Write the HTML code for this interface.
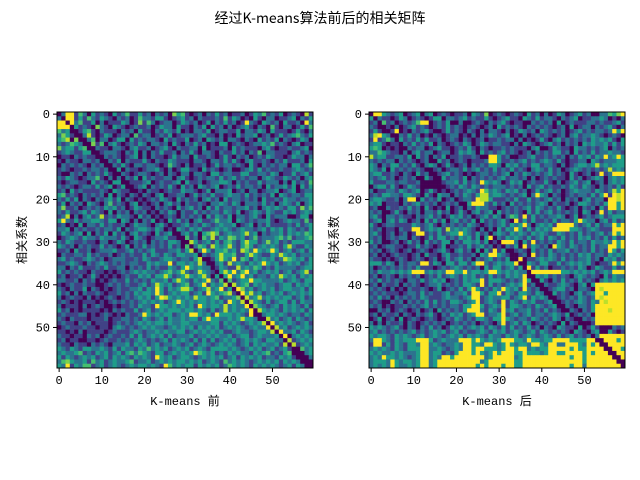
<!DOCTYPE html>
<html><head><meta charset="utf-8">
<style>
html,body{margin:0;padding:0;background:#fff;}
svg{display:block;}
text{font-family:"Liberation Mono","Noto Sans CJK SC",monospace;fill:#000;}
</style></head>
<body>
<svg id="fig" width="640" height="480" viewBox="0 0 640 480" xmlns="http://www.w3.org/2000/svg">
<text x="320" y="23" text-anchor="middle" font-size="14" style='font-family:"Noto Sans CJK SC","Liberation Mono",sans-serif'>经过K-means算法前后的相关矩阵</text>
</svg>
<script>
const tickValues=[0,10,20,30,40,50];
const levelScale=[0,0.2,0.38,0.55,0.7,0.8,0.9,1,1,1];
const leftRows=[
"0298142031 2103124113 1202120534 1012021312 0112013241 2130121061",
"2089131421 3210212014 2213310123 1202111214 1320103102 2011230213",
"9907241130 2011132015 1420122013 2120130213 1201721032 1203112082",
"9970312105 2103210121 1201322031 1021303120 2012310210 4102201314",
"4230413410 2111021203 1102132130 1022130122 1130221320 3111013102",
"2531052610 1320122041 2201213012 2212311020 1031223012 0131234213",
"3460503240 2201330312 1221031211 3012032120 2210210312 1302101320",
"2124320351 4023101213 2022120310 2131201033 0121012232 4121023011",
"5233134062 1102210231 1201231021 1220301112 0312111023 1011211230",
"1232113304 1222102130 2021311202 1310221021 1312021402 2111023121",
"0110212110 2212101230 2021101312 2031121013 1021201213 2110132202",
"1021102212 0121302111 3102113211 1022102213 1310231121 0213111203",
"0212121021 2012131022 1221014210 2011201312 2121031021 2122033124",
"1210112122 1201302110 1223102013 3110312101 2001231312 1121123212",
"1002120212 1310121012 2101202102 2022103312 2113311221 3201131231",
"2132101224 1020212130 3121122023 1012122131 2312122023 2113212023",
"1012211031 2103302111 2301211230 3112012233 2021211312 2202031214",
"2121012213 1230130112 3021213103 1203212301 2131221203 1223130313",
"1203121111 2103211021 0211012113 2210130222 3012022012 2301230122",
"3412102121 2030210211 2102301122 0131213112 3221312121 3032122133",
"2131302102 1231302101 0121321031 2120231203 1221212031 1213221223",
"1302120321 0241210230 1012023120 2112102232 1320222131 2023213023",
"2511201212 1323120132 1102121031 2312031312 2122312023 2321331524",
"2131123132 1030212021 2010213202 1131212213 2130123213 2113231232",
"1260202312 6121322103 1201012102 1212031321 3022123103 1222001330",
"3721312233 2133032020 2130103131 2023112422 3032121223 1012322141",
"1201030221 3121120132 2102310112 3121321232 2301230213 1111213123",
"2230212112 1221302123 3213201032 1323112323 2123221231 3231321213",
"1321230302 1303120231 2103123032 3130346412 3223623021 2231323243",
"0123213221 3222131032 1012231103 4120426132 5423124122 2342412234",
"2132112110 2201320121 2021213320 0631231313 4213633125 2312133322",
"3212021211 3121013021 3121213120 4024316323 6213531232 3213621132",
"1120311201 2223112312 1231112231 3602731334 2316427323 7312312313",
"0211221312 1120121211 3132132133 2230212363 3411363211 3263231222",
"2312112321 2012221121 3211233212 2136301363 2714313232 3126432313",
"1123210212 3212121221 1323227133 2326210231 6232132373 2312323123",
"2202131112 1311220212 1312113213 7323220132 1162324312 1322221233",
"3121211021 1010121232 3221234236 2126321036 3724723123 2312312361",
"1201120131 0101012113 2313363123 6323620313 9237231221 3263231323",
"2211202120 1012113121 2132231363 2132372140 4123373322 2231232133",
"1012112110 0121212112 3126323123 4123913236 0623413232 2123313232",
"2102113021 0101211223 1327313236 6312362371 3075231232 3123322313",
"3120202112 1011212132 3327312323 3123173234 6107362312 3231232323",
"2012110201 0121012123 2313763232 3263323412 2350623623 2323312312",
"1210101110 1012121212 3232312373 2323323231 7326063213 1233131322",
"2011102012 1001011213 2217332323 2317323326 2322705321 2313232131",
"3120101111 0102121131 2312323332 3323213126 2323270632 3213232313",
"1211122010 1210102112 7323233123 2773231733 3232170523 3232122132",
"2102111011 1201122121 3212313223 2331373322 3236332076 2312313212",
"1211021201 1101212123 2323323223 3222223313 2321232360 7232321231",
"0121112110 1102321212 3232212323 2313232312 3232123227 0623123232",
"1101020111 1012111232 1223232233 1232323231 1232212332 6072231321",
"2110110212 0121121313 1232313122 2312232322 3123312322 2307023232",
"1201100110 1211212123 2121231323 2131313123 2312323213 3220612323",
"2110211021 2102223132 3123122321 2312321232 3212313232 2316061232",
"3213213322 3213132213 2423231232 3123213333 2321232312 3123160423",
"2322341213 2312313424 3213312323 2374323121 3232213234 1213406023",
"3132123231 2313232132 3217323123 3212323231 2313232312 2132310702",
"2453223142 3123223412 2312323233 2323123214 2323212323 2313232060",
"3291324412 3123212323 3232174232 3313232312 4323213232 3212313206"];
const rightRows=[
"0773212301 2302301210 1120321501 2101210312 0201320123 1200224357",
"3021101320 1210133022 1231211310 1231103213 1221021230 1122320102",
"1204120121 2477012130 0200121021 2310110021 2120301211 1221211231",
"2103102012 3121012131 2101210120 3121210212 1210120301 2202123102",
"1310217010 2123100131 2102102022 1020132120 3212120123 1212212737",
"2673260213 1201021012 2010202132 1230102012 1210120231 2232101210",
"1712420312 1313112012 1021012011 2122020101 3102312121 2132323103",
"2331011021 3121302101 2132013212 2110203210 1231202120 3232231313",
"3430101032 1220123110 1213102101 1212111023 0013211032 2121230212",
"2243211021 2312201220 1323203121 2312101202 1213312031 2131223221",
"6233112213 0312021301 1211210077 3120011231 1212120213 2313272373",
"2121220212 1012003120 1210111277 3112123121 2321310112 2032122233",
"3202133121 3102320131 0120212133 2032312133 1221020123 3236232333",
"3213031212 1213012012 2131231213 1213121023 2131201232 1212126232",
"2331121021 0312101231 2101012212 1230213212 1231210310 1201712777",
"2123120121 2003120312 2130212121 2312212020 1212110312 0123202323",
"3111221221 1200003122 3131217323 2013230121 1310201231 2301202323",
"0233131013 2100000312 1321321212 2212120312 3121121321 3210212131",
"2011221321 2301310121 2123217423 2132312013 1231201232 2213212637",
"1213322133 2103103221 2132136623 3212123027 3202101212 2131371767",
"2332112027 7031213012 0122176631 1121311312 1231202120 2312207767",
"3230111021 2312120121 2103777213 1203121212 3202112013 3212137737",
"1200211213 1203101030 1212132211 0121212313 2121310120 2120317737",
"2120013102 1202213120 1313231230 3121210313 1231212120 3201713122",
"2310221211 0212312013 2312312313 2024317131 2122320130 1212312333",
"1230231320 1203131302 3121313121 2310713131 1213122137 3220231312",
"3101221111 3212310212 1213213121 2313237202 3231777721 2313122737",
"2120110211 7712323162 3232102120 3132731313 2327777332 1232111777",
"2310120120 1771213123 3732131202 3213232132 3211321213 1212312737",
"2120121220 2101313312 1323130373 2132321312 3132131213 2312131312",
"3120012013 1203121330 2133231301 3777203171 2121321312 2132232737",
"1201221101 1312101301 1213123120 1121307132 1207321321 2131227737",
"2120121012 0121012310 2312030317 1320121031 2131223121 2131217313",
"1201012110 1203110231 1211203277 3210012071 2132121213 2312213232",
"2110101210 1210120131 2312021231 2130070112 3232131212 2312032312",
"3331320212 2177132033 1331377212 3233770321 3311312323 2310112737",
"2012121212 1311101212 3212120313 3123130713 1201121213 2013211312",
"2132232323 7772323277 3372332377 3232322077 7777733232 3231232777",
"1201210212 1201213123 2132312131 2132327013 2312121023 2121031322",
"2131212102 2131232301 2132337133 3212127301 3102131213 1210232323",
"1202112021 2101223121 2133217131 2123237120 3211232102 3037777777",
"2121020102 1121013012 1313731213 2732317212 0212331202 2107677777",
"1212111012 2131211231 2231773133 7132133213 2023121023 1237737777",
"2131202121 2132111232 2123771232 2331237132 3202121213 2127677777",
"1210021202 1213131213 3212371232 1713213231 1230212123 2132767777",
"2120101121 2123121212 2133773123 2713321213 2123012102 2137777777",
"0021201210 1201203121 2137772132 1723122312 1312101210 2137776777",
"1202112021 0212310213 2312377122 3712312312 2123213012 1207777777",
"0130120301 2101210121 3212133213 3732122132 1213202130 2127777777",
"2020211202 1012121201 2121201210 2712313201 2121030210 0017777777",
"3232123102 1021312013 2312323132 1313121312 0210321103 2131000212",
"2312121212 3121232312 3121123213 2312321231 3212121032 1023003101",
"3233213232 1231232123 2313232132 2132312321 2321312312 1232777777",
"2773213233 3777312322 2777373232 3777332733 2337777333 3777077737",
"1771313213 3277232122 3277332773 2373233277 3277227773 2737707777",
"2323213213 3377223212 3277377333 2377377232 3377777373 3777770773",
"3232232322 2377233121 3777373237 3777337333 2377337777 3737777077",
"2327332321 2377232773 7777777237 7777237777 7777777377 3777777707",
"2333273233 2377237777 7777772377 7777337777 7777777777 3777777770",
"2323273223 2377237777 7777737377 7377337777 7777777377 2777777777"];
const diagValues=new Array(60).fill(0);

const NS="http://www.w3.org/2000/svg";
const svg=document.getElementById('fig');
const stops=[[68,1,84],[72,40,120],[62,73,137],[49,104,142],[38,130,142],[31,158,137],[53,183,121],[109,205,89],[180,222,44],[253,231,37]];
function viridis(t){t=Math.max(0,Math.min(1,t));const p=t*9,i=Math.min(8,Math.floor(p)),f=p-i;const a=stops[i],b=stops[i+1];return `rgb(${Math.round(a[0]+(b[0]-a[0])*f)},${Math.round(a[1]+(b[1]-a[1])*f)},${Math.round(a[2]+(b[2]-a[2])*f)})`;}
function mk(tag,attrs,parent){const e=document.createElementNS(NS,tag);for(const k in attrs)e.setAttribute(k,attrs[k]);(parent||svg).appendChild(e);return e;}

function drawPanel(rows,x0,y0,size,label,prefix){
  const n=60,cell=size/n;
  const sx=v=>x0+(v+0.5)*cell, sy=v=>y0+(v+0.5)*cell;
  const g=mk('g',{});
  
  
  rows.forEach((r,i)=>{
    const s=r.replace(/ /g,'');
    for(let j=0;j<n;j++){
      let v=parseInt(s[j]||'0',10);
      if(i===j)v=diagValues[i];
      const c=mk('rect',{x:(sx(j)-cell/2).toFixed(2),y:(sy(i)-cell/2).toFixed(2),width:(cell+0.3).toFixed(2),height:(cell+0.3).toFixed(2),fill:viridis(levelScale[v])},g);
      
      
    }
  });
  const fr=mk('rect',{x:x0,y:y0,width:size,height:size,fill:'none',stroke:'#000','stroke-width':1});
  
  
  tickValues.forEach(t=>{
    mk('line',{x1:sx(t),x2:sx(t),y1:y0+size,y2:y0+size+4,stroke:'#000'});
    const tx=mk('text',{x:sx(t),y:y0+size+16,'text-anchor':'middle','font-size':12});
    tx.textContent=t;
    
    
    mk('line',{x1:x0-4,x2:x0,y1:sy(t),y2:sy(t),stroke:'#000'});
    const ty=mk('text',{x:x0-7,y:sy(t)+4,'text-anchor':'end','font-size':12});
    ty.textContent=t;
    
    
  });
  const xl=mk('text',{x:x0+size/2,y:y0+size+37,'text-anchor':'middle','font-size':12});
  xl.textContent=label;
  
  
  const cy=y0+size/2;
  const yl=mk('text',{x:x0-31,y:cy,'text-anchor':'middle','font-size':12,transform:`rotate(-90 ${x0-31} ${cy})`});
  yl.textContent='相关系数';
  
  
}
drawPanel(leftRows,57,112,256,'K-means 前','before');
drawPanel(rightRows,369,112,256,'K-means 后','after');
</script>
</body></html>
